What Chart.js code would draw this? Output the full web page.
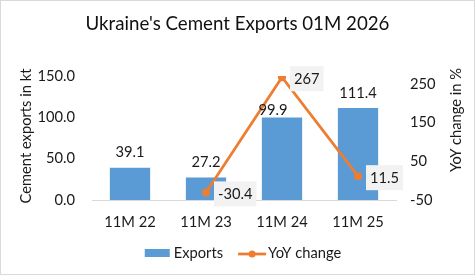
<!DOCTYPE html>
<html>
<head>
<meta charset="utf-8">
<script src="https://cdn.jsdelivr.net/npm/chart.js@4.4.1/dist/chart.umd.min.js"></script>
<style>
  html, body { margin: 0; padding: 0; background: #fff; }
  #wrap { width: 473px; height: 273px; border: 1px solid #d9d9d9; }
</style>
</head>
<body>
<div id="wrap"><canvas id="myChart" width="473" height="273"></canvas></div>
<script>
const periods = ['11M 22', '11M 23', '11M 24', '11M 25'];
const exportsKt = [39.1, 27.2, 99.9, 111.4];
const yoyChange = [null, -30.4, 267, 11.5];
const leftTicks = [0, 50, 100, 150];
const rightTicks = [-50, 50, 150, 250];

const FONT = 'Lato, Carlito, Calibri, sans-serif';
const TEXT = '#1a1a1a';
const BLUE = '#5B9BD5';
const ORANGE = '#ED7D31';

// value labels: above bars, boxed to the right of line points
const valueLabels = {
  id: 'valueLabels',
  afterDatasetsDraw(chart) {
    const ctx = chart.ctx;
    ctx.save();
    ctx.font = '14.7px ' + FONT;
    ctx.fillStyle = TEXT;
    ctx.textBaseline = 'middle';

    const bars = chart.getDatasetMeta(0);
    const nudge = { 2: { dx: -9, dy: 8 } };  // 99.9 was moved off the line
    bars.data.forEach((el, i) => {
      const n = nudge[i] || { dx: 0, dy: 0 };
      ctx.textAlign = 'center';
      ctx.fillText(exportsKt[i].toFixed(1), el.x + n.dx, el.y - 15 + n.dy);
    });

    const line = chart.getDatasetMeta(1);
    line.data.forEach((el, i) => {
      if (yoyChange[i] === null) return;
      const txt = String(yoyChange[i]);
      const w = ctx.measureText(txt).width + 8;
      const x0 = el.x + 8, y0 = el.y - 11;
      ctx.fillStyle = '#F2F2F2';
      ctx.fillRect(x0, y0, w, 25);
      ctx.fillStyle = TEXT;
      ctx.textAlign = 'left';
      ctx.fillText(txt, x0 + 4, y0 + 13);
    });
    ctx.restore();
  }
};

// axis titles and legend
const extras = {
  id: 'extras',
  afterDraw(chart) {
    const ctx = chart.ctx;
    const a = chart.chartArea;
    ctx.save();
    ctx.font = '14.7px ' + FONT;
    ctx.fillStyle = TEXT;
    ctx.textAlign = 'center';
    ctx.textBaseline = 'middle';

    ctx.save();
    ctx.translate(25, 135);
    ctx.rotate(-Math.PI / 2);
    ctx.fillText('Cement exports in kt', 0, 0);
    ctx.restore();

    ctx.save();
    ctx.translate(455, 119);
    ctx.rotate(-Math.PI / 2);
    ctx.fillText('YoY change in %', 0, 0);
    ctx.restore();

    // legend
    const ds = chart.data.datasets;
    const w1 = ctx.measureText(ds[0].label).width;
    const w2 = ctx.measureText(ds[1].label).width;
    const total = 25 + 4 + w1 + 15 + 28 + 2 + w2;
    let x = (a.left + a.right) / 2 - 1 - total / 2;
    const y = 252;
    ctx.textAlign = 'left';
    ctx.fillStyle = BLUE;
    ctx.fillRect(x, y - 4, 25, 8);
    x += 29;
    ctx.fillStyle = TEXT;
    ctx.fillText(ds[0].label, x, y);
    x += w1 + 15;
    ctx.strokeStyle = ORANGE;
    ctx.lineWidth = 2.75;
    ctx.beginPath();
    ctx.moveTo(x, y + 1);
    ctx.lineTo(x + 28, y + 1);
    ctx.stroke();
    ctx.fillStyle = ORANGE;
    ctx.beginPath();
    ctx.arc(x + 14, y + 1, 3.5, 0, Math.PI * 2);
    ctx.fill();
    x += 30;
    ctx.fillStyle = TEXT;
    ctx.fillText(ds[1].label, x, y);
    ctx.restore();
  }
};

const ctx = document.getElementById('myChart').getContext('2d');
const myChart = new Chart(ctx, {
  data: {
    labels: periods,
    datasets: [{
      type: 'bar',
      label: 'Exports',
      data: exportsKt,
      backgroundColor: BLUE,
      yAxisID: 'y',
      categoryPercentage: 0.53,
      barPercentage: 1,
      order: 1
    }, {
      type: 'line',
      label: 'YoY change',
      data: yoyChange,
      borderColor: ORANGE,
      backgroundColor: ORANGE,
      borderWidth: 2.75,
      pointRadius: 4,
      pointBackgroundColor: ORANGE,
      pointBorderWidth: 0,
      tension: 0,
      yAxisID: 'y1',
      order: 0
    }]
  },
  options: {
    responsive: false,
    animation: false,
    events: [],
    layout: { padding: 0 },
    plugins: {
      legend: { display: false },
      tooltip: { enabled: false },
      title: {
        display: true,
        text: "Ukraine's Cement Exports 01M 2026",
        color: '#111',
        font: { family: FONT, size: 18.7, weight: 'normal' },
        padding: { top: 12, bottom: 40.6 }
      }
    },
    scales: {
      x: {
        grid: { display: false, drawTicks: false },
        border: { color: '#d9d9d9', width: 1 },
        ticks: { color: TEXT, font: { family: FONT, size: 14.7 }, padding: 13 },
        afterFit(s) { s.height = 74; }
      },
      y: {
        position: 'left',
        min: 0,
        max: 150,
        grid: { display: false, drawTicks: false },
        border: { display: false },
        afterBuildTicks(s) { s.ticks = leftTicks.map(v => ({ value: v })); },
        ticks: {
          color: TEXT,
          font: { family: FONT, size: 14.7 },
          padding: 17,
          callback: v => Number(v).toFixed(1)
        },
        afterFit(s) { s.width = 91; }
      },
      y1: {
        position: 'right',
        min: -50,
        max: 270,
        grid: { display: false, drawTicks: false },
        border: { display: false },
        afterBuildTicks(s) { s.ticks = rightTicks.map(v => ({ value: v })); },
        ticks: {
          color: TEXT,
          font: { family: FONT, size: 14.7 },
          padding: 14,
          callback: v => String(v)
        },
        afterFit(s) { s.width = 78; }
      }
    }
  },
  plugins: [valueLabels, extras]
});
</script>
</body>
</html>
